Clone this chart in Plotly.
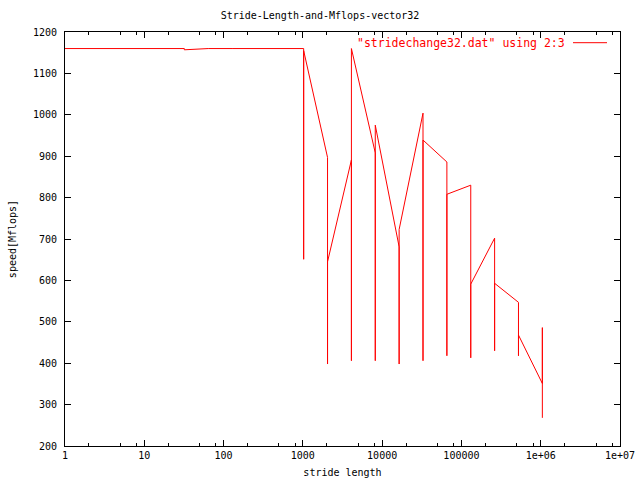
import plotly.graph_objects as go

# stride length (column 2) and speed in Mflops (column 3), in file order
stride = [
    1, 1, 1, 2, 2, 2, 4, 4, 4, 8, 8, 8, 16, 16, 16, 32, 32, 32,
    64, 64, 64, 128, 128, 128, 256, 256, 256, 512, 512, 512,
    1024, 1024, 1024, 2048, 2048, 2048, 4096, 4096, 4096,
    8192, 8192, 8192, 16384, 16384, 16384, 32768, 32768, 32768,
    65536, 65536, 65536, 131072, 131072, 131072, 262144, 262144, 262144,
    524288, 524288, 524288, 1048576, 1048576, 1048576,
]
speed = [
    1160, 1160, 1160, 1160, 1160, 1160, 1160, 1160, 1160, 1160, 1160, 1160,
    1160, 1160, 1160, 1160, 1160, 1157,
    1160, 1160, 1160, 1160, 1160, 1160, 1160, 1160, 1160, 1160, 1160, 1160,
    1160, 651, 1155, 897, 398, 645, 891, 406, 1160,
    908, 406, 975, 681, 398, 723, 1004, 406, 939,
    886, 418, 808, 830, 413, 591, 702, 430, 593,
    547, 418, 468, 351, 486, 268,
]

title_text = "Stride-Length-and-Mflops-vector32"
legend_text = '"stridechange32.dat" using 2:3'
x_label = "stride length"
y_label = "speed[Mflops]"
x_tickvals = [1, 10, 100, 1000, 10000, 100000, 1000000, 10000000]
x_ticktext = ["1", "10", "100", "1000", "10000", "100000", "1e+06", "1e+07"]
x_minor = [m * 10 ** k for k in range(7) for m in (2, 5, 8)]
y_tickvals = list(range(200, 1201, 100))

FONT = "DejaVu Sans Mono"
RED = "#ff0000"

fig = go.Figure()
fig.add_trace(go.Scatter(
    x=stride, y=speed, mode="lines",
    line=dict(color=RED, width=1),
    name=legend_text, showlegend=False,
))

fig.update_layout(
    width=640, height=480,
    margin=dict(l=65, r=20, t=32, b=34, autoexpand=False),
    paper_bgcolor="white", plot_bgcolor="white",
    font=dict(family=FONT, size=10, color="black"),
    title=dict(text=title_text, x=0.5, xanchor="center",
               y=1 - 15 / 480, yanchor="middle",
               font=dict(family=FONT, size=10, color="black")),
    showlegend=False,
)

fig.update_xaxes(
    type="log", range=[0, 7], automargin=False,
    tickmode="array", tickvals=x_tickvals, ticktext=x_ticktext,
    ticks="inside", ticklen=6, tickwidth=1, tickcolor="black",
    minor=dict(tickmode="array", tickvals=x_minor, ticks="inside",
               ticklen=3, tickwidth=1, tickcolor="black", showgrid=False),
    showline=True, linecolor="black", linewidth=1, mirror="allticks",
    showgrid=False, zeroline=False,
    title=dict(text=x_label, standoff=8, font=dict(family=FONT, size=10)),
    tickfont=dict(family=FONT, size=10),
)
fig.update_yaxes(
    range=[200, 1200], automargin=False,
    tickmode="array", tickvals=y_tickvals,
    ticks="inside", ticklen=6, tickwidth=1, tickcolor="black",
    ticklabelstandoff=5,
    showline=True, linecolor="black", linewidth=1, mirror="allticks",
    showgrid=False, zeroline=False,
    title=dict(text=y_label, standoff=14, font=dict(family=FONT, size=10)),
    tickfont=dict(family=FONT, size=10),
)

# key, drawn gnuplot-style: text followed by a line sample
fig.add_annotation(
    xref="paper", yref="paper", x=(567 - 65) / 555, y=1 - (42.7 - 32) / 414,
    xanchor="right", yanchor="middle", showarrow=False,
    text=legend_text, font=dict(family=FONT, size=11.5, color=RED),
)
fig.add_shape(
    type="line", xref="paper", yref="paper",
    x0=(573 - 65) / 555, x1=(607 - 65) / 555,
    y0=1 - (42.7 - 32) / 414, y1=1 - (42.7 - 32) / 414,
    line=dict(color=RED, width=1),
)

fig.write_html(
    "out.html",
    config={"displayModeBar": False, "staticPlot": True},
    post_script="document.body.style.margin='0';document.body.style.overflow='hidden';",
)
